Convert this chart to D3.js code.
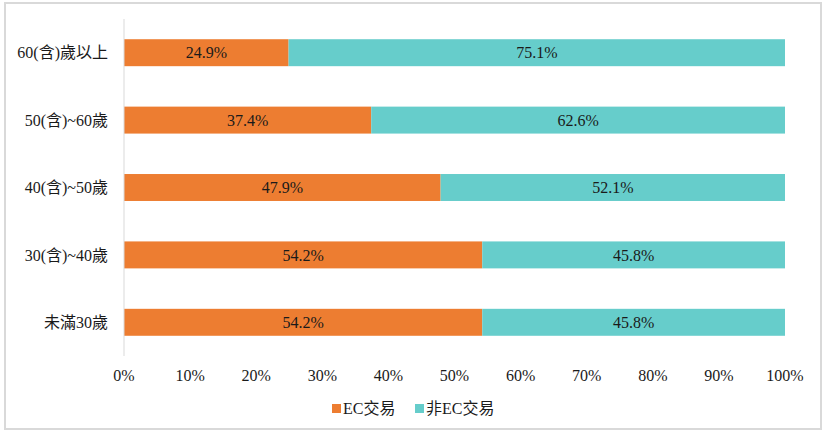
<!DOCTYPE html>
<html>
<head>
<meta charset="utf-8">
<script src="https://cdn.jsdelivr.net/npm/d3@7"></script>
<style>
  body { margin: 0; background: #fff; }
</style>
</head>
<body>
<svg id="chart" width="829" height="437"></svg>
<script>
const categories = ['60(含)歲以上', '50(含)~60歲', '40(含)~50歲', '30(含)~40歲', '未滿30歲'];
const ecValues = [24.9, 37.4, 47.9, 54.2, 54.2];
const nonEcValues = [75.1, 62.6, 52.1, 45.8, 45.8];
const seriesNames = ['EC交易', '非EC交易'];
const seriesColors = ['#ED7D31', '#66CDCB'];
const xTicks = [0, 10, 20, 30, 40, 50, 60, 70, 80, 90, 100];

const FONT = "'Liberation Serif', 'Times New Roman', 'Noto Sans CJK TC', serif";

const svg = d3.select('#chart')
    .attr('font-family', FONT)
    .attr('fill', '#1a1a1a');

// outer frame
svg.append('rect')
    .attr('x', 5).attr('y', 3)
    .attr('width', 816).attr('height', 426)
    .attr('fill', 'none')
    .attr('stroke', '#d9d9d9')
    .attr('stroke-width', 2);

const x = d3.scaleLinear().domain([0, 100]).range([124, 785]);
const y = d3.scaleBand().domain(categories).range([19, 356]).paddingInner(0.6).paddingOuter(0.3);

const rows = categories.map((c, i) => ({ cat: c, vals: [ecValues[i], nonEcValues[i]] }));
const stack = d3.stack().keys([0, 1]).value((d, k) => d.vals[k]);
const layers = stack(rows);

layers.forEach((layer, k) => {
    const g = svg.append('g');
    g.selectAll('rect')
        .data(layer)
        .join('rect')
        .attr('x', (d) => x(d[0]))
        .attr('y', (d) => y(d.data.cat))
        .attr('width', (d) => x(d[1]) - x(d[0]))
        .attr('height', y.bandwidth())
        .attr('fill', seriesColors[k]);
    g.selectAll('text')
        .data(layer)
        .join('text')
        .attr('x', (d) => (x(d[0]) + x(d[1])) / 2)
        .attr('y', (d) => y(d.data.cat) + y.bandwidth() / 2)
        .attr('dy', '0.35em')
        .attr('text-anchor', 'middle')
        .attr('font-family', FONT)
        .attr('font-size', 16)
        .attr('fill', '#1a1a1a')
        .text((d) => d.data.vals[k].toFixed(1) + '%');
});

// y axis line
svg.append('line')
    .attr('x1', 124).attr('x2', 124)
    .attr('y1', 19).attr('y2', 356)
    .attr('stroke', '#d9d9d9')
    .attr('stroke-width', 1);

// category labels
svg.append('g').selectAll('text')
    .data(categories)
    .join('text')
    .attr('x', 108)
    .attr('y', (d) => y(d) + y.bandwidth() / 2)
    .attr('dy', '0.35em')
    .attr('text-anchor', 'end')
    .attr('font-family', FONT)
    .attr('font-size', 16)
    .attr('fill', '#1a1a1a')
    .text((d) => d);

// x tick labels
svg.append('g').selectAll('text')
    .data(xTicks)
    .join('text')
    .attr('x', (d) => x(d))
    .attr('y', 381)
    .attr('text-anchor', 'middle')
    .attr('font-family', FONT)
    .attr('font-size', 16)
    .attr('fill', '#1a1a1a')
    .text((d) => d + '%');

// legend
const legendX = [332, 415];
seriesNames.forEach((name, k) => {
    svg.append('rect')
        .attr('x', legendX[k]).attr('y', 404)
        .attr('width', 9).attr('height', 9)
        .attr('fill', seriesColors[k]);
    svg.append('text')
        .attr('x', legendX[k] + 11)
        .attr('y', 414)
        .attr('font-family', FONT)
        .attr('font-size', 16)
        .attr('fill', '#1a1a1a')
        .text(name);
});
</script>
</body>
</html>
